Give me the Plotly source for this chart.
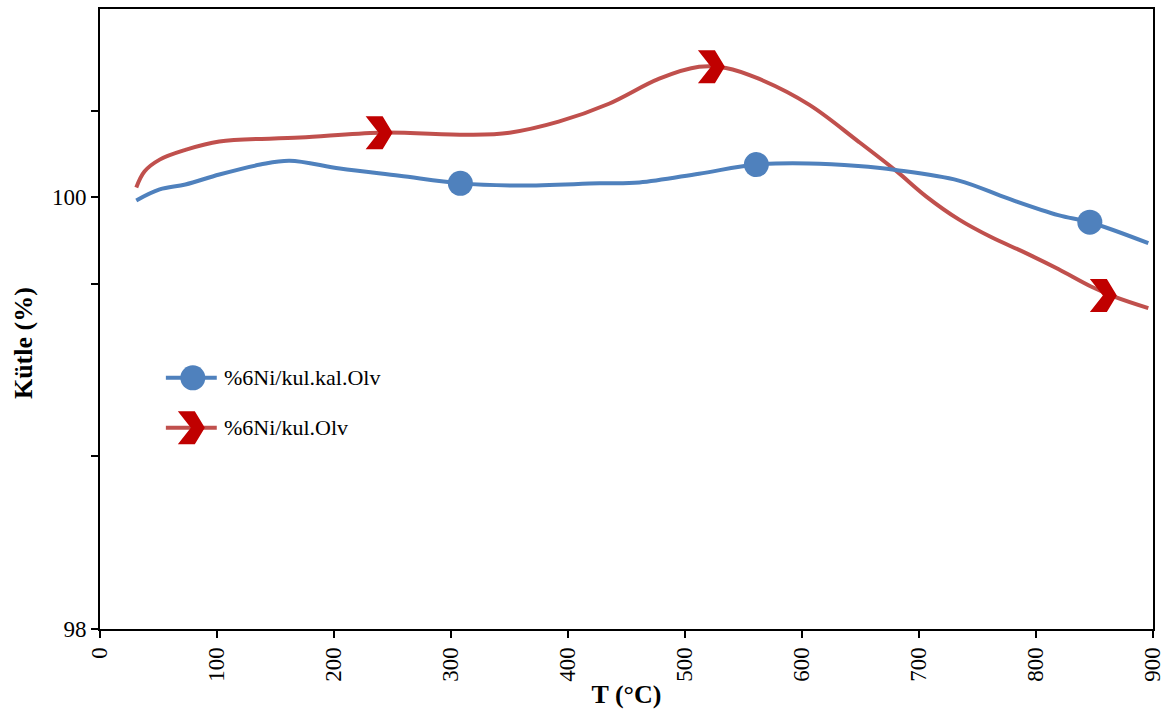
import plotly.graph_objects as go

# Thermogravimetric mass curves
T_kal = [31, 51, 73, 102, 137, 162, 205, 256, 308, 358, 427, 461, 512, 561, 606, 648, 680, 734, 776,
         819, 846, 896]
mass_kal = [99.986, 100.037, 100.06, 100.106, 100.152, 100.17, 100.134, 100.10, 100.065, 100.055,
            100.065, 100.069, 100.11, 100.152, 100.157, 100.145, 100.127, 100.078, 99.995,
            99.918, 99.885, 99.788]

T_olv = [31, 38, 51, 73, 102, 171, 239, 316, 350, 392, 435, 478, 512, 535, 563, 606, 648, 680,
         706, 734, 762, 791, 819, 847, 868, 896]
mass_olv = [100.046, 100.12, 100.175, 100.22, 100.259, 100.277, 100.30, 100.29, 100.30, 100.351,
            100.434, 100.55, 100.605, 100.60, 100.55, 100.43, 100.26, 100.125, 100.005, 99.898,
            99.815, 99.743, 99.668, 99.587, 99.538, 99.487]

# Marker positions along each curve
mk_T_kal = [308, 561, 846]
mk_mass_kal = [100.065, 100.152, 99.885]
mk_T_olv = [239, 523, 858]
mk_mass_olv = [100.30, 100.605, 99.545]

names = ["%6Ni/kul.kal.Olv", "%6Ni/kul.Olv"]
x_ticks = [0, 100, 200, 300, 400, 500, 600, 700, 800, 900]
y_ticks = [98, 98.8, 99.6, 100, 100.4]
y_tick_text = ["98", "", "", "100", ""]

BLUE = "#4F81BD"
RED_LINE = "#C0504D"
RED_MARK = "#C00000"
FONT = "Liberation Serif, Times New Roman, serif"

# chevron outline in pixels around its anchor point
CHEVRON = "M-14,-16.5 L3,-16.5 L13,0 L3,16.5 L-14,16.5 L-1,0 Z"

fig = go.Figure()
fig.add_trace(go.Scatter(x=T_olv, y=mass_olv, mode="lines", line=dict(color=RED_LINE, width=4, shape="spline"),
                         name=names[1], showlegend=False))
fig.add_trace(go.Scatter(x=T_kal, y=mass_kal, mode="lines", line=dict(color=BLUE, width=4, shape="spline"),
                         name=names[0], showlegend=False))
fig.add_trace(go.Scatter(x=mk_T_kal, y=mk_mass_kal, mode="markers",
                         marker=dict(symbol="circle", size=25, color=BLUE, line=dict(width=0)),
                         showlegend=False))

shapes = []
for tx, my in zip(mk_T_olv, mk_mass_olv):
    shapes.append(dict(type="path", xref="x", yref="y", xsizemode="pixel", ysizemode="pixel",
                       xanchor=tx, yanchor=my, path=CHEVRON,
                       fillcolor=RED_MARK, line=dict(width=0), layer="above"))

# legend drawn inside the plot area
W, H = 1055, 622
def px(xp):
    return (xp - 100) / W
def py(yp):
    return (629 - yp) / H

legend_rows = [377, 427]
annotations = []
for i, yy in enumerate(legend_rows):
    col = BLUE if i == 0 else RED_LINE
    shapes.append(dict(type="line", xref="paper", yref="paper", x0=px(166), x1=px(217), y0=py(yy), y1=py(yy),
                       line=dict(color=col, width=4), layer="above"))
    annotations.append(dict(x=px(222), y=py(yy), xref="paper", yref="paper", text=names[i], showarrow=False,
                            xanchor="left", yanchor="middle", font=dict(family=FONT, size=22, color="black")))
shapes.append(dict(type="circle", xref="paper", yref="paper", xsizemode="pixel", ysizemode="pixel",
                   xanchor=px(193), yanchor=py(legend_rows[0]), x0=-12.5, x1=12.5, y0=-12.5, y1=12.5,
                   fillcolor=BLUE, line=dict(width=0), layer="above"))
shapes.append(dict(type="path", xref="paper", yref="paper", xsizemode="pixel", ysizemode="pixel",
                   xanchor=px(192), yanchor=py(legend_rows[1]), path=CHEVRON,
                   fillcolor=RED_MARK, line=dict(width=0), layer="above"))

# y-axis title
annotations.append(dict(x=px(24), y=py(342), xref="paper", yref="paper", text="<b>Kütle (%)</b>",
                        textangle=-90, showarrow=False, xanchor="center", yanchor="middle",
                        font=dict(family=FONT, size=26, color="black")))

fig.update_layout(
    width=1172, height=715,
    margin=dict(l=100, r=17, t=7, b=86),
    plot_bgcolor="white", paper_bgcolor="white",
    shapes=shapes, annotations=annotations,
    showlegend=False,
    font=dict(family=FONT, size=22, color="black"),
    xaxis=dict(range=[0, 900], tickvals=x_ticks, tickangle=-90, showgrid=False, zeroline=False,
               showline=True, linecolor="black", linewidth=2, mirror=True,
               ticks="outside", ticklen=7, tickwidth=2, tickcolor="black",
               tickfont=dict(family=FONT, size=23),
               title=dict(text="<b>T (°C)</b>", font=dict(family=FONT, size=26), standoff=4)),
    yaxis=dict(range=[98, 100.873], tickvals=y_ticks, ticktext=y_tick_text, showgrid=False, zeroline=False,
               showline=True, linecolor="black", linewidth=2, mirror=True,
               ticks="outside", ticklen=7, tickwidth=2, tickcolor="black",
               tickfont=dict(family=FONT, size=23)),
)

fig.write_html("out.html")
